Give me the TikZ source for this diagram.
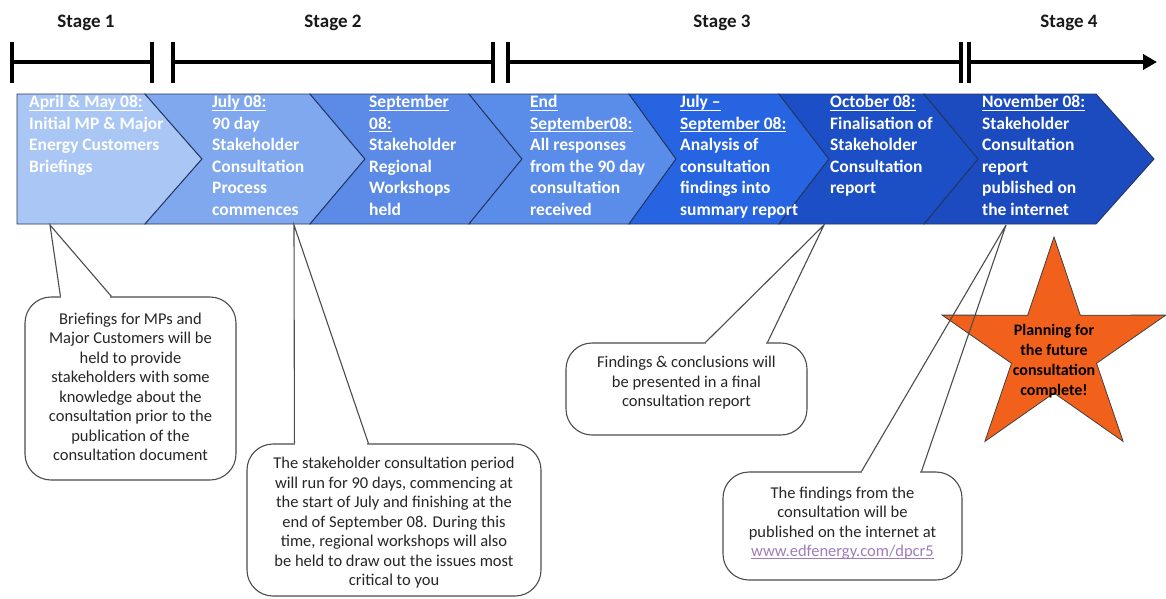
\documentclass[tikz,border=0pt]{standalone}
\usepackage{fontspec}
\setmainfont{Carlito}
\usetikzlibrary{arrows.meta}
\definecolor{segA}{HTML}{A9C6F4}
\definecolor{segB}{HTML}{80A8EE}
\definecolor{segC}{HTML}{5B8BE6}
\definecolor{segD}{HTML}{5A8CEA}
\definecolor{segE}{HTML}{2664E2}
\definecolor{segF}{HTML}{1C4EC6}
\definecolor{segG}{HTML}{1C4BC0}
\definecolor{bandline}{HTML}{24365E}
\definecolor{starfill}{HTML}{F2611C}
\definecolor{linkcol}{HTML}{A07CB8}
\newcommand\ulx[1]{\setbox0=\hbox{#1}\rlap{\rule[-2.6pt]{\wd0}{0.9pt}}\box0}
\tikzset{
  seg/.style={draw=bandline, line width=0.9pt, line join=miter},
  segtext/.style={anchor=north west, inner sep=0pt, align=left, text=white,
    font=\bfseries\fontsize{17.5}{21.5}\selectfont},
  tl/.style={line width=4pt, black},
  tick/.style={line width=4.5pt, black},
  stagelbl/.style={font=\bfseries\fontsize{19}{22}\selectfont, text=black!90, inner sep=0pt},
  cbox/.style={draw=black!70, line width=1.1pt, rounded corners=26pt, fill=white, inner sep=0pt},
  ctext/.style={align=center, inner sep=0pt, text=black!85, font=\fontsize{16.5}{19.5}\selectfont},
  ptr/.style={draw=black!70, line width=1.1pt, line join=miter},
}
\begin{document}
\begin{tikzpicture}[x=1pt,y=-1pt]
\useasboundingbox (0,0) rectangle (1166,598);
\fill[white] (0,0) rectangle (1166,598);

% ---------- timeline ----------
\coordinate (t0) at (12,62);
\coordinate (t1) at (152,62);
\coordinate (t2) at (173,62);
\coordinate (t3) at (493,62);
\coordinate (t4) at (508,62);
\coordinate (t5) at (961,62);
\coordinate (t6) at (969,62);
\coordinate (tend) at (1157,62);
\draw[tl] (t0) -- (t1);
\draw[tl] (t2) -- (t3);
\draw[tl] (t4) -- (t5);
\draw[tl, -{Triangle[length=14pt,width=15pt]}] (t6) -- (tend);
\foreach \c in {t0,t1,t2,t3,t4,t5,t6}
  \draw[tick] ([yshift=20.5pt]\c) -- ([yshift=-21pt]\c);

\node[stagelbl] (s1) at (86,23) {Stage 1};
\node[stagelbl] (s2) at (333,23) {Stage 2};
\node[stagelbl] (s3) at (722,23) {Stage 3};
\node[stagelbl] (s4) at (1069,23) {Stage 4};

% ---------- chevron band ----------
\def\bt{94}\def\bb{224}\def\bm{159}
\path[seg, fill=segA] (17,\bt) -- (145,\bt) -- (202,\bm) -- (145,\bb) -- (17,\bb) -- cycle;
\path[seg, fill=segB] (145,\bt) -- (310,\bt) -- (365,\bm) -- (310,\bb) -- (145,\bb) -- (202,\bm) -- cycle;
\path[seg, fill=segC] (310,\bt) -- (469,\bt) -- (522,\bm) -- (469,\bb) -- (310,\bb) -- (365,\bm) -- cycle;
\path[seg, fill=segD] (469,\bt) -- (629,\bt) -- (676,\bm) -- (629,\bb) -- (469,\bb) -- (522,\bm) -- cycle;
\path[seg, fill=segE] (629,\bt) -- (779,\bt) -- (829,\bm) -- (779,\bb) -- (629,\bb) -- (676,\bm) -- cycle;
\path[seg, fill=segF] (779,\bt) -- (924,\bt) -- (978,\bm) -- (924,\bb) -- (779,\bb) -- (829,\bm) -- cycle;
\path[seg, fill=segG] (924,\bt) -- (1096,\bt) -- (1154,\bm) -- (1096,\bb) -- (924,\bb) -- (978,\bm) -- cycle;

\node[segtext] (e1) at (29,95.5) {\ulx{April \& May 08:}\\Initial MP \& Major\\Energy Customers\\Briefings};
\node[segtext] (e2) at (212,95.5) {\ulx{July 08:}\\90 day\\Stakeholder\\Consultation\\Process\\commences};
\node[segtext] (e3) at (369,95.5) {\ulx{September}\\\ulx{08:}\\Stakeholder\\Regional\\Workshops\\held};
\node[segtext] (e4) at (530,95.5) {\ulx{End}\\\ulx{September08:}\\All responses\\from the 90 day\\consultation\\received};
\node[segtext] (e5) at (680,95.5) {\ulx{July --}\\\ulx{September 08:}\\Analysis of\\consultation\\findings into\\summary report};
\node[segtext] (e6) at (830,95.5) {\ulx{October 08:}\\Finalisation of\\Stakeholder\\Consultation\\report};
\node[segtext] (e7) at (982,95.5) {\ulx{November 08:}\\Stakeholder\\Consultation\\report\\published on\\the internet};

% ---------- star ----------
\path[draw=black!75, line width=0.8pt, fill=starfill, line join=miter]
  (1054,237) -- (1080.3,315.2) -- (1165.8,315.1) -- (1096.5,363.3) -- (1123.1,441.4)
  -- (1054,393) -- (984.9,441.4) -- (1011.5,363.3) -- (942.2,315.1) -- (1027.7,315.2) -- cycle;
\node[align=center, inner sep=0pt, font=\bfseries\fontsize{16}{20}\selectfont, text=black] (st) at (1054,361)
  {Planning for\\the future\\consultation\\complete!};

% ---------- callouts ----------
% callout 1
\node[cbox, minimum width=211pt, minimum height=183pt] (c1) at (130.5,388.5) {};
\node[ctext] (c1t) at (130.5,387) {Briefings for MPs and\\Major Customers will be\\held to provide\\stakeholders with some\\knowledge about the\\consultation prior to the\\publication of the\\consultation document};
\coordinate (p1) at (50,225);
\fill[white] ([xshift=37pt,yshift=1.5pt]c1.north west) rectangle ([xshift=86pt,yshift=-1.5pt]c1.north west);
\draw[ptr] ([xshift=36pt]c1.north west) -- (p1) -- ([xshift=87pt]c1.north west);

% callout 2
\node[cbox, minimum width=294pt, minimum height=152pt] (c2) at (394,520) {};
\node[ctext] (c2t) at (394,523) {The stakeholder consultation period\\will run for 90 days, commencing at\\the start of July and finishing at the\\end of September 08. During this\\time, regional workshops will also\\be held to draw out the issues most\\critical to you};
\coordinate (p2) at (294,225);
\fill[white] ([xshift=49pt,yshift=1.5pt]c2.north west) rectangle ([xshift=121pt,yshift=-1.5pt]c2.north west);
\draw[ptr] ([xshift=48pt]c2.north west) -- (p2) -- ([xshift=122pt]c2.north west);

% callout 3
\node[cbox, minimum width=241pt, minimum height=92pt] (c3) at (686.5,389) {};
\node[ctext] (c3t) at (686.5,383) {Findings \& conclusions will\\be presented in a final\\consultation report};
\coordinate (p3) at (824,225);
\fill[white] ([xshift=141pt,yshift=1.5pt]c3.north west) rectangle ([xshift=201pt,yshift=-1.5pt]c3.north west);
\draw[ptr] ([xshift=140pt]c3.north west) -- (p3) -- ([xshift=202pt]c3.north west);

% callout 4
\node[cbox, minimum width=239pt, minimum height=108pt] (c4) at (842.5,526) {};
\node[ctext] (c4t) at (842.5,523) {The findings from the\\consultation will be\\published on the internet at\\\textcolor{linkcol}{\ulx{www.edfenergy.com/dpcr5}}};
\coordinate (p4) at (1006,225);
\fill[white] ([xshift=140pt,yshift=1.5pt]c4.north west) rectangle ([xshift=198pt,yshift=-1.5pt]c4.north west);
\draw[ptr] ([xshift=139pt]c4.north west) -- (p4) -- ([xshift=199pt]c4.north west);
\end{tikzpicture}
\end{document}
